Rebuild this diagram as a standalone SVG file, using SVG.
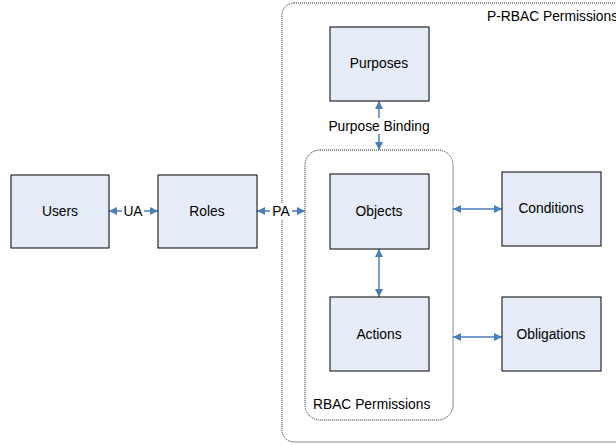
<svg xmlns="http://www.w3.org/2000/svg" width="616" height="445" viewBox="0 0 616 445">
<defs>
<marker id="ah" viewBox="0 0 10 10" refX="10" refY="5" markerWidth="8" markerHeight="8" markerUnits="userSpaceOnUse" orient="auto-start-reverse">
<path d="M0,0 L10,5 L0,10 z" fill="#4a7ebb"/>
</marker>
<style>
.box{fill:#e6ecf7;stroke:#000;stroke-width:1}
.grp{fill:none;stroke:#222;stroke-width:1;stroke-dasharray:1 1}
.t{font-family:"Liberation Sans",Arial,sans-serif;font-size:13.8px;fill:#000;text-anchor:middle}
.tl{font-family:"Liberation Sans",Arial,sans-serif;font-size:13.8px;fill:#000}
.c{stroke:#4a7ebb;stroke-width:1.5;fill:none;marker-start:url(#ah);marker-end:url(#ah)}
.bg{fill:#fff}
</style>
</defs>
<rect width="616" height="445" fill="#fff"/>
<g id="p-rbac-permissions">
<rect class="grp" x="282" y="3" width="350" height="439" rx="12"/>
<text class="tl" x="487" y="21">P-RBAC Permissions</text>
</g>
<g id="rbac-permissions">
<rect class="grp" x="305" y="150" width="148" height="270" rx="15"/>
<text class="tl" x="313" y="409">RBAC Permissions</text>
</g>
<g id="connectors">
<line class="c" x1="109" y1="211" x2="158" y2="211"/>
<rect class="bg" x="122" y="203" width="22" height="16"/>
<text class="t" x="133" y="216">UA</text>
<line class="c" x1="257" y1="211" x2="305" y2="211"/>
<rect class="bg" x="270" y="203" width="22" height="16"/>
<text class="t" x="281" y="216">PA</text>
<line class="c" x1="379" y1="101" x2="379" y2="150"/>
<rect class="bg" x="325" y="118" width="109" height="16"/>
<text class="t" x="379" y="131">Purpose Binding</text>
<line class="c" x1="379" y1="249" x2="379" y2="297"/>
<line class="c" x1="453" y1="209" x2="502" y2="209"/>
<line class="c" x1="453" y1="337" x2="502" y2="337"/>
</g>
<g id="users"><rect class="box" x="11" y="175" width="98" height="73"/><text class="t" x="60" y="216">Users</text></g>
<g id="roles"><rect class="box" x="158" y="175" width="99" height="73"/><text class="t" x="207" y="216">Roles</text></g>
<g id="purposes"><rect class="box" x="330" y="27" width="99" height="74"/><text class="t" x="379" y="68">Purposes</text></g>
<g id="objects"><rect class="box" x="330" y="174" width="99" height="75"/><text class="t" x="379" y="216">Objects</text></g>
<g id="actions"><rect class="box" x="330" y="297" width="99" height="74"/><text class="t" x="379" y="339">Actions</text></g>
<g id="conditions"><rect class="box" x="502" y="172" width="99" height="74"/><text class="t" x="551" y="213">Conditions</text></g>
<g id="obligations"><rect class="box" x="502" y="297" width="99" height="74"/><text class="t" x="551" y="339">Obligations</text></g>
</svg>
